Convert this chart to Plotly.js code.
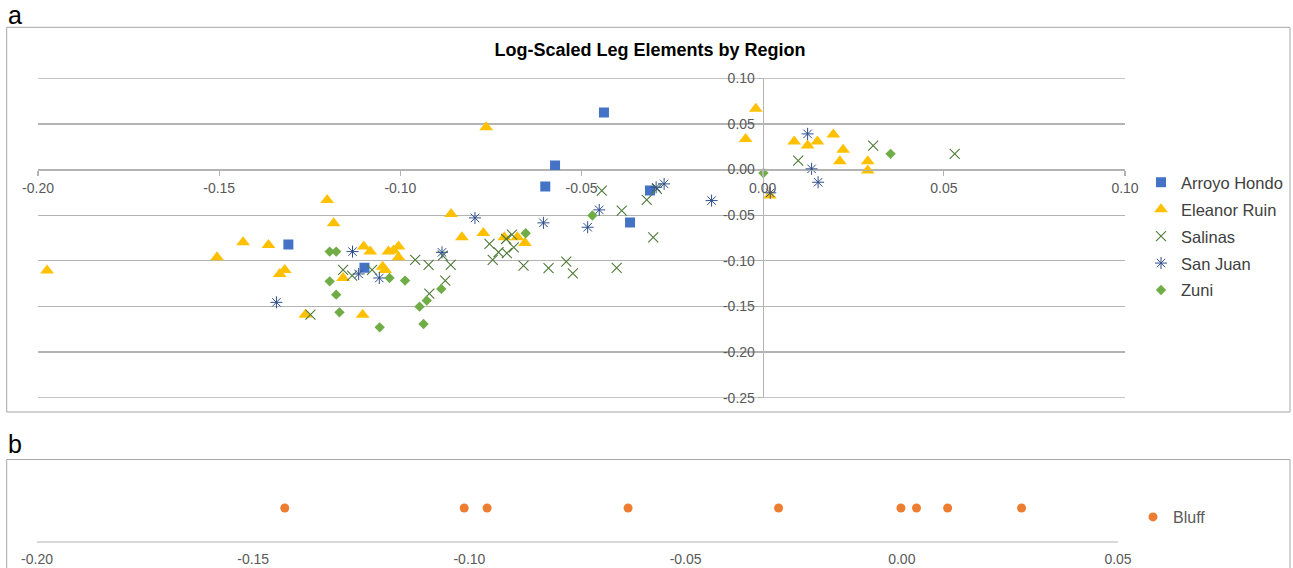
<!DOCTYPE html>
<html>
<head>
<meta charset="utf-8">
<script src="https://cdn.plot.ly/plotly-3.0.1.min.js"></script>
<style>html,body{margin:0;padding:0;background:#fff;}#chart{width:1293px;height:568px;}</style>
</head>
<body>
<div id="chart"></div>
<script>
// ---- data ----
const arroyoX = [-0.1309, -0.1099, -0.0438, -0.0573, -0.0600, -0.0311, -0.0366];
const arroyoY = [-0.0822, -0.1075, 0.0625, 0.0044, -0.0186, -0.0230, -0.0581];

const eleanorX = [-0.1975, -0.1506, -0.1434, -0.1364, -0.1333, -0.1319, -0.1202, -0.1184, -0.1101, -0.1083,
                  -0.1033, -0.1019, -0.1005, -0.1005, -0.1049, -0.1042, -0.1158, -0.1262, -0.1104, -0.0860,
                  -0.0830, -0.0771, -0.0713, -0.0677, -0.0656, -0.0763, -0.0019, -0.0047, 0.0020, 0.0087,
                  0.0124, 0.0151, 0.0195, 0.0222, 0.0213, 0.0290, 0.0290];
const eleanorY = [-0.1107, -0.0962, -0.0797, -0.0826, -0.1144, -0.1100, -0.0333, -0.0589, -0.0844, -0.0899,
                  -0.0899, -0.0888, -0.0844, -0.0962, -0.1064, -0.1100, -0.1188, -0.1590, -0.1590, -0.0486,
                  -0.0742, -0.0694, -0.0742, -0.0742, -0.0804, 0.0464, 0.0665, 0.0336, -0.0285, 0.0307,
                  0.0263, 0.0307, 0.0384, 0.0216, 0.0091, 0.0091, -0.0011];

const salinasX = [-0.1248, -0.1158, -0.1133, -0.1078, -0.0959, -0.0922, -0.0883, -0.0861, -0.0876, -0.0920,
                  -0.0754, -0.0729, -0.0745, -0.0706, -0.0692, -0.0687, -0.0708, -0.0660, -0.0591, -0.0542,
                  -0.0524, -0.0444, -0.0389, -0.0403, -0.0320, -0.0302, -0.0292, 0.0098, 0.0305, 0.0530];
const salinasY = [-0.1590, -0.1100, -0.1162, -0.1100, -0.0990, -0.1045, -0.0943, -0.1045, -0.1217, -0.1360,
                  -0.0815, -0.0906, -0.0990, -0.0916, -0.0713, -0.0852, -0.0761, -0.1053, -0.1080, -0.1009,
                  -0.1137, -0.0230, -0.0450, -0.1078, -0.0333, -0.0742, -0.0212, 0.0099, 0.0263, 0.0172];

const sanJuanX = [-0.1342, -0.1132, -0.1115, -0.1058, -0.0885, -0.0794, -0.0605, -0.0483, -0.0451, -0.0294,
                  -0.0272, -0.0141, 0.0021, 0.0124, 0.0135, 0.0153];
const sanJuanY = [-0.1455, -0.0899, -0.1144, -0.1188, -0.0907, -0.0530, -0.0584, -0.0632, -0.0442, -0.0194,
                  -0.0157, -0.0340, -0.0255, 0.0391, 0.0008, -0.0139];

const zuniX = [-0.1195, -0.1177, -0.1195, -0.1177, -0.1168, -0.1057, -0.1030, -0.0987, -0.0947, -0.0927,
               -0.0936, -0.0887, -0.0654, -0.0470, 0.0002, 0.0353];
const zuniY = [-0.0899, -0.0899, -0.1225, -0.1371, -0.1565, -0.1729, -0.1188, -0.1217, -0.1502, -0.1436,
               -0.1692, -0.1308, -0.0698, -0.0504, -0.0037, 0.0172];

const bluffX = [-0.1427, -0.1012, -0.0959, -0.0633, -0.0285, -0.0002, 0.0034, 0.0106, 0.0277];
const bluffY = [1, 1, 1, 1, 1, 1, 1, 1, 1];

const xTicksA = [-0.20, -0.15, -0.10, -0.05, 0.00, 0.05, 0.10];
const xTickTextA = ["-0.20", "-0.15", "-0.10", "-0.05", "0.00", "0.05", "0.10"];
const yTicksA = [0.10, 0.05, 0.00, -0.05, -0.10, -0.15, -0.20, -0.25];
const yTickTextA = ["0.10", "0.05", "0.00", "-0.05", "-0.10", "-0.15", "-0.20", "-0.25"];
const xTicksB = [-0.20, -0.15, -0.10, -0.05, 0.00, 0.05];
const xTickTextB = ["-0.20", "-0.15", "-0.10", "-0.05", "0.00", "0.05"];

// ---- layout helpers (pixel -> paper) ----
const W = 1293, H = 568;
const px = v => v / W;
const py = v => (H - v) / H;

const FONT = "Liberation Sans, Arial, sans-serif";

const traces = [
  {x: arroyoX, y: arroyoY, name: "Arroyo Hondo", type: "scatter", mode: "markers", legendgroup: "g1",
   marker: {symbol: "square", size: 10, color: "#4472c4"}, xaxis: "x", yaxis: "y", legend: "legend"},
  {x: eleanorX, y: eleanorY, name: "Eleanor Ruin", type: "scatter", mode: "markers", legendgroup: "g2",
   marker: {symbol: "triangle-up", size: 12, color: "#ffc000"}, xaxis: "x", yaxis: "y", legend: "legend"},
  {x: salinasX, y: salinasY, name: "Salinas", type: "scatter", mode: "markers", legendgroup: "g3",
   marker: {symbol: "x-thin-open", size: 10, color: "#4f7a38", line: {width: 1.1, color: "#4f7a38"}},
   xaxis: "x", yaxis: "y", legend: "legend"},
  {x: sanJuanX, y: sanJuanY, name: "San Juan", type: "scatter", mode: "markers", legendgroup: "g4",
   marker: {symbol: "asterisk-open", size: 10, color: "#2f4f8a", line: {width: 1, color: "#2f4f8a"}},
   xaxis: "x", yaxis: "y", legend: "legend"},
  {x: zuniX, y: zuniY, name: "Zuni", type: "scatter", mode: "markers", legendgroup: "g5",
   marker: {symbol: "diamond", size: 8, color: "#70ad47"}, xaxis: "x", yaxis: "y", legend: "legend"},
  {x: bluffX, y: bluffY, name: "Bluff", type: "scatter", mode: "markers",
   marker: {symbol: "circle", size: 9, color: "#ed7d31"}, xaxis: "x2", yaxis: "y2", legend: "legend2"}
];

const xA0 = 38, xA1 = 1125, yA0 = 78.3, yA1 = 397.7;
const zeroXpaper = px(xA0 + (0 - (-0.20)) / 0.30 * (xA1 - xA0));
const zeroYpaper = py(yA0 + (0.10 - 0) / 0.35 * (yA1 - yA0));

const layout = {
  width: W, height: H,
  margin: {l: 0, r: 0, t: 0, b: 0},
  paper_bgcolor: "#ffffff",
  plot_bgcolor: "rgba(0,0,0,0)",
  font: {family: FONT, color: "#595959", size: 14},
  showlegend: true,
  title: {text: "Log-Scaled Leg Elements by Region", x: px(650), y: py(50),
          xanchor: "center", yanchor: "middle", xref: "paper", yref: "paper",
          font: {family: FONT, size: 18, color: "#000000", weight: "bold"}},
  xaxis: {
    domain: [px(xA0), px(xA1)], range: [-0.20, 0.10],
    anchor: "free", position: zeroYpaper,
    tickvals: xTicksA, ticktext: xTickTextA,
    showgrid: false, zeroline: false,
    showline: true, linecolor: "#b3b3b3", linewidth: 1.3,
    ticks: "outside", ticklen: 5, tickcolor: "#b3b3b3", tickwidth: 1.3,
    tickfont: {family: FONT, size: 14, color: "#595959"}, fixedrange: true
  },
  yaxis: {
    domain: [py(yA1), py(yA0)], range: [-0.25, 0.10],
    anchor: "free", position: zeroXpaper,
    tickvals: yTicksA, ticktext: yTickTextA,
    showgrid: true, gridcolor: "#b3b3b3", gridwidth: 1.3, zeroline: false,
    showline: true, linecolor: "#b3b3b3", linewidth: 1.3,
    ticks: "outside", ticklen: 5, tickcolor: "#b3b3b3", tickwidth: 1.3,
    tickfont: {family: FONT, size: 14, color: "#595959"}, fixedrange: true
  },
  xaxis2: {
    domain: [px(37), px(1118)], range: [-0.20, 0.05],
    anchor: "y2", tickvals: xTicksB, ticktext: xTickTextB,
    showgrid: false, zeroline: false,
    showline: true, linecolor: "#d9d9d9", linewidth: 1.5,
    ticks: "outside", ticklen: 5, tickcolor: "rgba(0,0,0,0)",
    tickfont: {family: FONT, size: 14, color: "#595959"}, fixedrange: true
  },
  yaxis2: {
    domain: [py(541), py(475)], range: [0, 2], anchor: "x2",
    visible: false, showgrid: false, zeroline: false, fixedrange: true
  },
  legend: {
    x: px(1141), y: py(165), xanchor: "left", yanchor: "top",
    bgcolor: "rgba(0,0,0,0)", borderwidth: 0,
    font: {family: FONT, size: 16.5, color: "#404040"},
    itemwidth: 30, tracegroupgap: 2.5
  },
  legend2: {
    x: px(1133), y: py(517), xanchor: "left", yanchor: "middle",
    bgcolor: "rgba(0,0,0,0)", borderwidth: 0,
    font: {family: FONT, size: 16, color: "#595959"},
    itemwidth: 30
  },
  shapes: [
    // edge gridlines at 0.10 and -0.25 (Plotly omits grid at the range ends)
    {type: "line", xref: "paper", yref: "y", x0: px(xA0), x1: px(xA1), y0: 0.10, y1: 0.10,
     line: {color: "#b3b3b3", width: 1.3}, layer: "below"},
    {type: "line", xref: "paper", yref: "y", x0: px(xA0), x1: px(xA1), y0: -0.25, y1: -0.25,
     line: {color: "#b3b3b3", width: 1.3}, layer: "below"},
    {type: "rect", xref: "paper", yref: "paper", x0: px(6.7), x1: px(1290), y0: py(412), y1: py(27.3),
     line: {color: "#a6a6a6", width: 1}, fillcolor: "rgba(0,0,0,0)", layer: "below"},
    {type: "rect", xref: "paper", yref: "paper", x0: px(6.7), x1: px(1290), y0: py(600), y1: py(459.5),
     line: {color: "#a6a6a6", width: 1}, fillcolor: "rgba(0,0,0,0)", layer: "below"}
  ],
  annotations: [
    {text: "a", xref: "paper", yref: "paper", x: px(6), y: py(15), xanchor: "left", yanchor: "middle",
     showarrow: false, font: {family: FONT, size: 25, color: "#000000"}},
    {text: "b", xref: "paper", yref: "paper", x: px(6), y: py(444), xanchor: "left", yanchor: "middle",
     showarrow: false, font: {family: FONT, size: 25, color: "#000000"}}
  ]
};

Plotly.newPlot("chart", traces, layout, {displayModeBar: false, staticPlot: true});
</script>
</body>
</html>
